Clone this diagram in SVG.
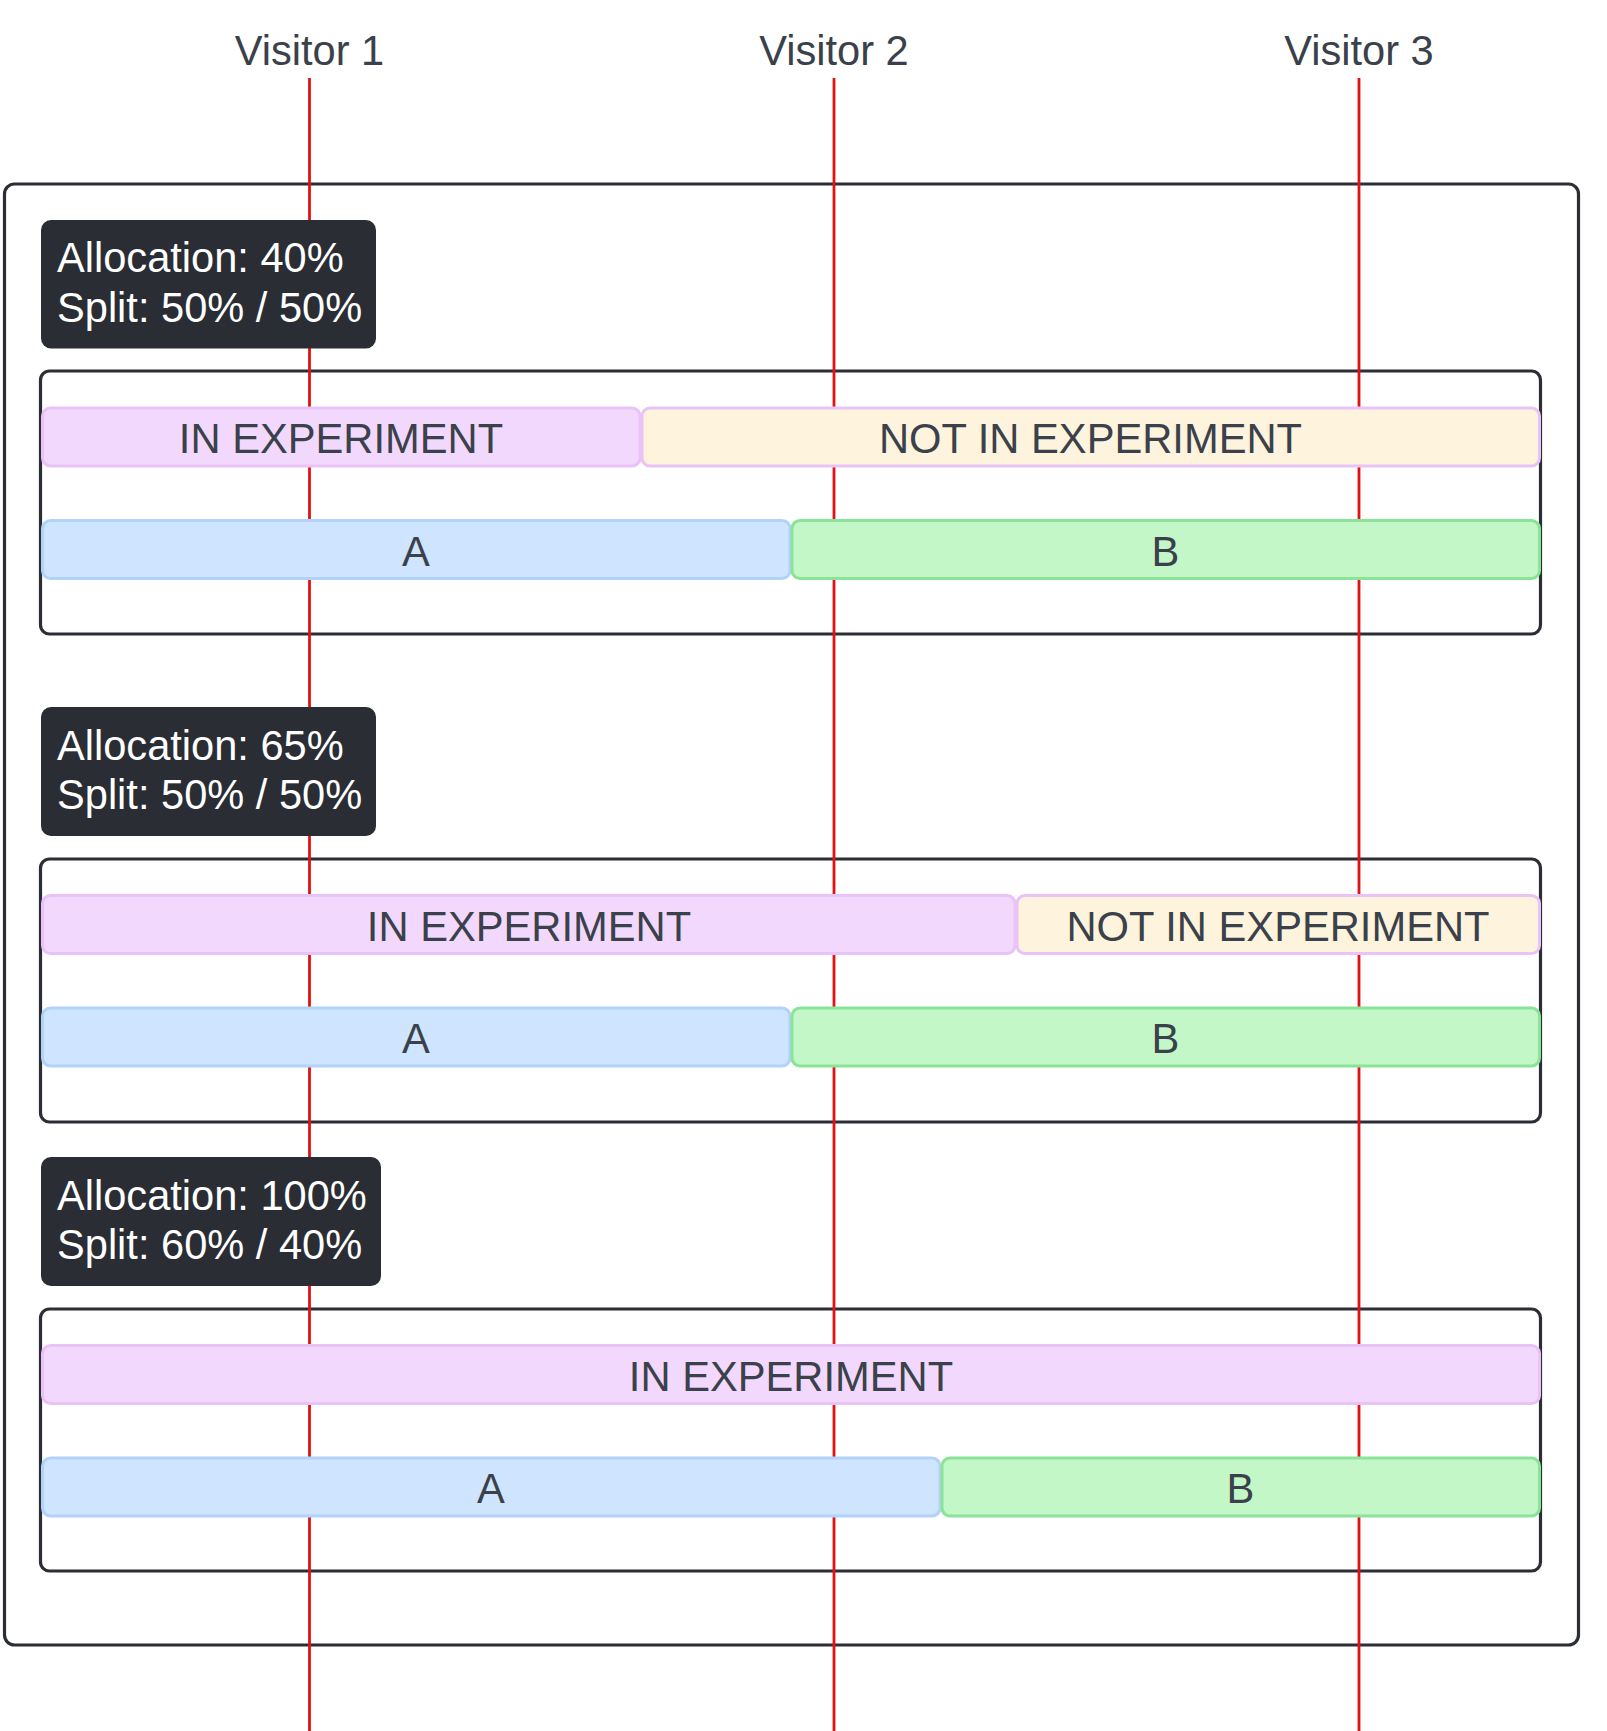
<svg xmlns="http://www.w3.org/2000/svg" width="1607" height="1731" viewBox="0 0 1607 1731">
<style>
  .bg { fill: #ffffff; }
  .frame { fill: none; stroke: #2b2e35; stroke-width: 3.2; }
  .life { stroke: #e31212; stroke-width: 2.8; fill: none; }
  .label { fill: #2a2d34; }
  .labtxt { fill: #ffffff; font-family: "Liberation Sans", Arial, sans-serif; font-size: 41.6px; }
  .head { fill: #3a414a; font-family: "Liberation Sans", Arial, sans-serif; font-size: 41.6px; text-anchor: middle; }
  .bartxt { fill: #3a414a; font-family: "Liberation Sans", Arial, sans-serif; font-size: 41.7px; text-anchor: middle; }
  .in { fill: #f3d8fd; stroke: #e9c3f8; stroke-width: 3; }
  .out { fill: #fef3dc; stroke: #e9c3f8; stroke-width: 3; }
  .a { fill: #cfe4fe; stroke: #b2d2fa; stroke-width: 3; }
  .b { fill: #c4f7c8; stroke: #8ae497; stroke-width: 3; }
</style>
<rect class="bg" x="0" y="0" width="1607" height="1731"/>

<g id="headers">
  <text class="head" x="309.5" y="65">Visitor 1</text>
  <text class="head" x="834" y="65">Visitor 2</text>
  <text class="head" x="1359" y="65">Visitor 3</text>
</g>

<g id="frames">
  <rect id="outer" class="frame" x="4.5" y="184" width="1574" height="1461" rx="10"/>
  <rect id="box1" class="frame" x="40.5" y="371" width="1500" height="263" rx="9"/>
  <rect id="box2" class="frame" x="40.5" y="859" width="1500" height="263" rx="9"/>
  <rect id="box3" class="frame" x="40.5" y="1309" width="1500" height="262" rx="9"/>
</g>

<g id="connectors">
  <line class="life" x1="309.5" y1="78" x2="309.5" y2="1731"/>
  <line class="life" x1="834" y1="78" x2="834" y2="1731"/>
  <line class="life" x1="1359" y1="78" x2="1359" y2="1731"/>
</g>

<g id="label1">
  <rect class="label" x="41" y="220" width="335" height="128.5" rx="10"/>
  <text class="labtxt" x="57" y="272">Allocation: 40%</text>
  <text class="labtxt" x="57" y="321.5">Split: 50% / 50%</text>
</g>
<g id="label2">
  <rect class="label" x="41" y="707" width="335" height="129" rx="10"/>
  <text class="labtxt" x="57" y="759.5">Allocation: 65%</text>
  <text class="labtxt" x="57" y="809">Split: 50% / 50%</text>
</g>
<g id="label3">
  <rect class="label" x="41" y="1157" width="340" height="129" rx="10"/>
  <text class="labtxt" x="57" y="1209.5">Allocation: 100%</text>
  <text class="labtxt" x="57" y="1259">Split: 60% / 40%</text>
</g>

<g id="s1-in">
  <rect class="in" x="42.5" y="408" width="597.5" height="58" rx="8"/>
  <text class="bartxt" x="341" y="453">IN EXPERIMENT</text>
</g>
<g id="s1-out">
  <rect class="out" x="642" y="408" width="897.5" height="58" rx="8"/>
  <text class="bartxt" x="1090.5" y="453">NOT IN EXPERIMENT</text>
</g>
<g id="s1-a">
  <rect class="a" x="42.5" y="520.5" width="747.5" height="58" rx="8"/>
  <text class="bartxt" x="416" y="565.5">A</text>
</g>
<g id="s1-b">
  <rect class="b" x="792" y="520.5" width="747.5" height="58" rx="8"/>
  <text class="bartxt" x="1165.5" y="565.5">B</text>
</g>

<g id="s2-in">
  <rect class="in" x="42.5" y="895.5" width="972.5" height="58" rx="8"/>
  <text class="bartxt" x="529" y="940.5">IN EXPERIMENT</text>
</g>
<g id="s2-out">
  <rect class="out" x="1017" y="895.5" width="522.5" height="58" rx="8"/>
  <text class="bartxt" x="1278" y="940.5">NOT IN EXPERIMENT</text>
</g>
<g id="s2-a">
  <rect class="a" x="42.5" y="1008" width="747.5" height="58" rx="8"/>
  <text class="bartxt" x="416" y="1053">A</text>
</g>
<g id="s2-b">
  <rect class="b" x="792" y="1008" width="747.5" height="58" rx="8"/>
  <text class="bartxt" x="1165.5" y="1053">B</text>
</g>

<g id="s3-in">
  <rect class="in" x="42.5" y="1345.5" width="1497" height="58" rx="8"/>
  <text class="bartxt" x="791" y="1390.5">IN EXPERIMENT</text>
</g>
<g id="s3-a">
  <rect class="a" x="42.5" y="1458" width="897.5" height="58" rx="8"/>
  <text class="bartxt" x="491" y="1503">A</text>
</g>
<g id="s3-b">
  <rect class="b" x="942" y="1458" width="597.5" height="58" rx="8"/>
  <text class="bartxt" x="1240.5" y="1503">B</text>
</g>
</svg>
